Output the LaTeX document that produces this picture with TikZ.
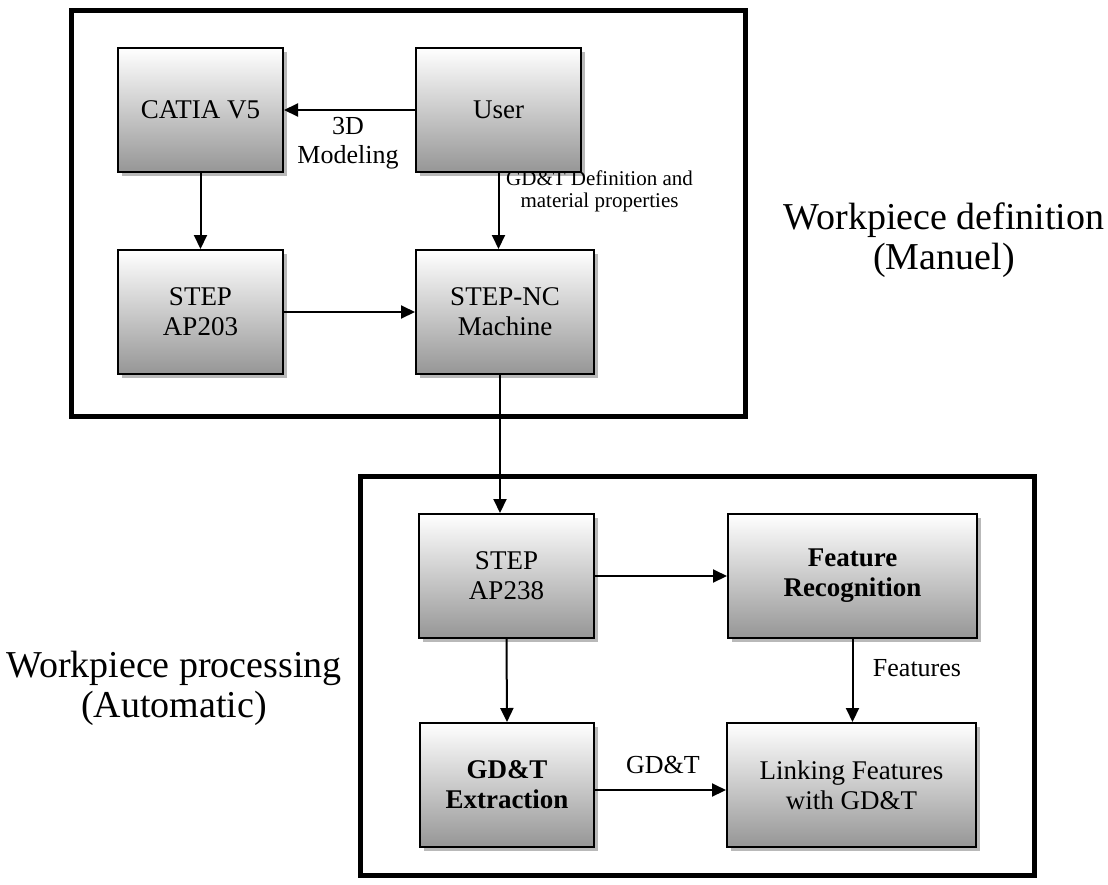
\documentclass[tikz,border=0pt]{standalone}
\usepackage{fontspec}
\setmainfont{Liberation Serif}
\usetikzlibrary{arrows.meta,shadows,calc}
\definecolor{boxbot}{RGB}{150,150,150}
\begin{document}
\begin{tikzpicture}[x=1pt,y=-1pt,
  box/.style={draw=black,line width=2pt,top color=white,bottom color=boxbot,
    minimum height=124pt,align=center,inner sep=2pt,
    font=\fontsize{27}{30}\selectfont,
    drop shadow={shadow xshift=3.5pt,shadow yshift=-3.5pt,fill=gray!55,opacity=1}},
  frame/.style={draw=black,line width=5pt},
  arr/.style={draw=black,line width=2pt,-{Triangle[length=14pt,width=13pt]}},
  lbl/.style={align=center,font=\fontsize{26}{29}\selectfont,inner sep=0pt},
  side/.style={align=center,font=\fontsize{38}{40}\selectfont,inner sep=0pt}]
\useasboundingbox (0,0) rectangle (1108,884);
% frames
\draw[frame] (71.5,10.5) rectangle (745.5,416);
\draw[frame] (360,476.5) rectangle (1034,875.5);
% boxes
\node[box,minimum width=165pt] (catia) at (200.5,110) {CATIA V5};
\node[box,minimum width=165pt] (user) at (498.5,110) {User};
\node[box,minimum width=165pt] (ap203) at (200.5,312) {STEP\\AP203};
\node[box,minimum width=178pt] (nc) at (505,312) {STEP-NC\\Machine};
\node[box,minimum width=175pt] (ap238) at (506.5,576) {STEP\\AP238};
\node[box,minimum width=249pt] (fr) at (852.5,576) {\textbf{Feature}\\\textbf{Recognition}};
\node[box,minimum width=174pt] (gdt) at (507,785) {\textbf{GD\&T}\\\textbf{Extraction}};
\node[box,minimum width=249pt] (link) at (851.5,785) {Linking Features\\with GD\&T};
% arrows
\draw[arr] (user.west) -- (catia.east);
\draw[arr] (catia.south) -- (ap203.north);
\draw[arr] (ap203.east) -- (nc.west);
\draw[arr] (user.south) -- (user.south |- nc.north);
\draw[arr] ([xshift=-5pt]nc.south) -- ([xshift=-5pt]nc.south |- ap238.north);
\draw[arr] (ap238.east) -- (fr.west);
\draw[arr] (ap238.south) -- (gdt.north);
\draw[arr] (fr.south) -- (fr.south |- link.north);
\draw[arr] ([yshift=-5pt]gdt.east) -- ([yshift=-5pt]gdt.east -| link.west);
% labels
\node[lbl] (l3d) at (348,143) {3D\\Modeling};
\node[lbl,font=\fontsize{21}{22}\selectfont,anchor=west] (lgdt) at (506,191) {GD\&T Definition and\\material properties};
\node[lbl] (lfeat) at (917,668) {Features};
\node[lbl] (lgdt2) at (663,765) {GD\&T};
\node[side] (sdef) at (944,240) {Workpiece definition\\(Manuel)};
\node[side] (sproc) at (174,688) {Workpiece processing\\(Automatic)};
\end{tikzpicture}
\end{document}
